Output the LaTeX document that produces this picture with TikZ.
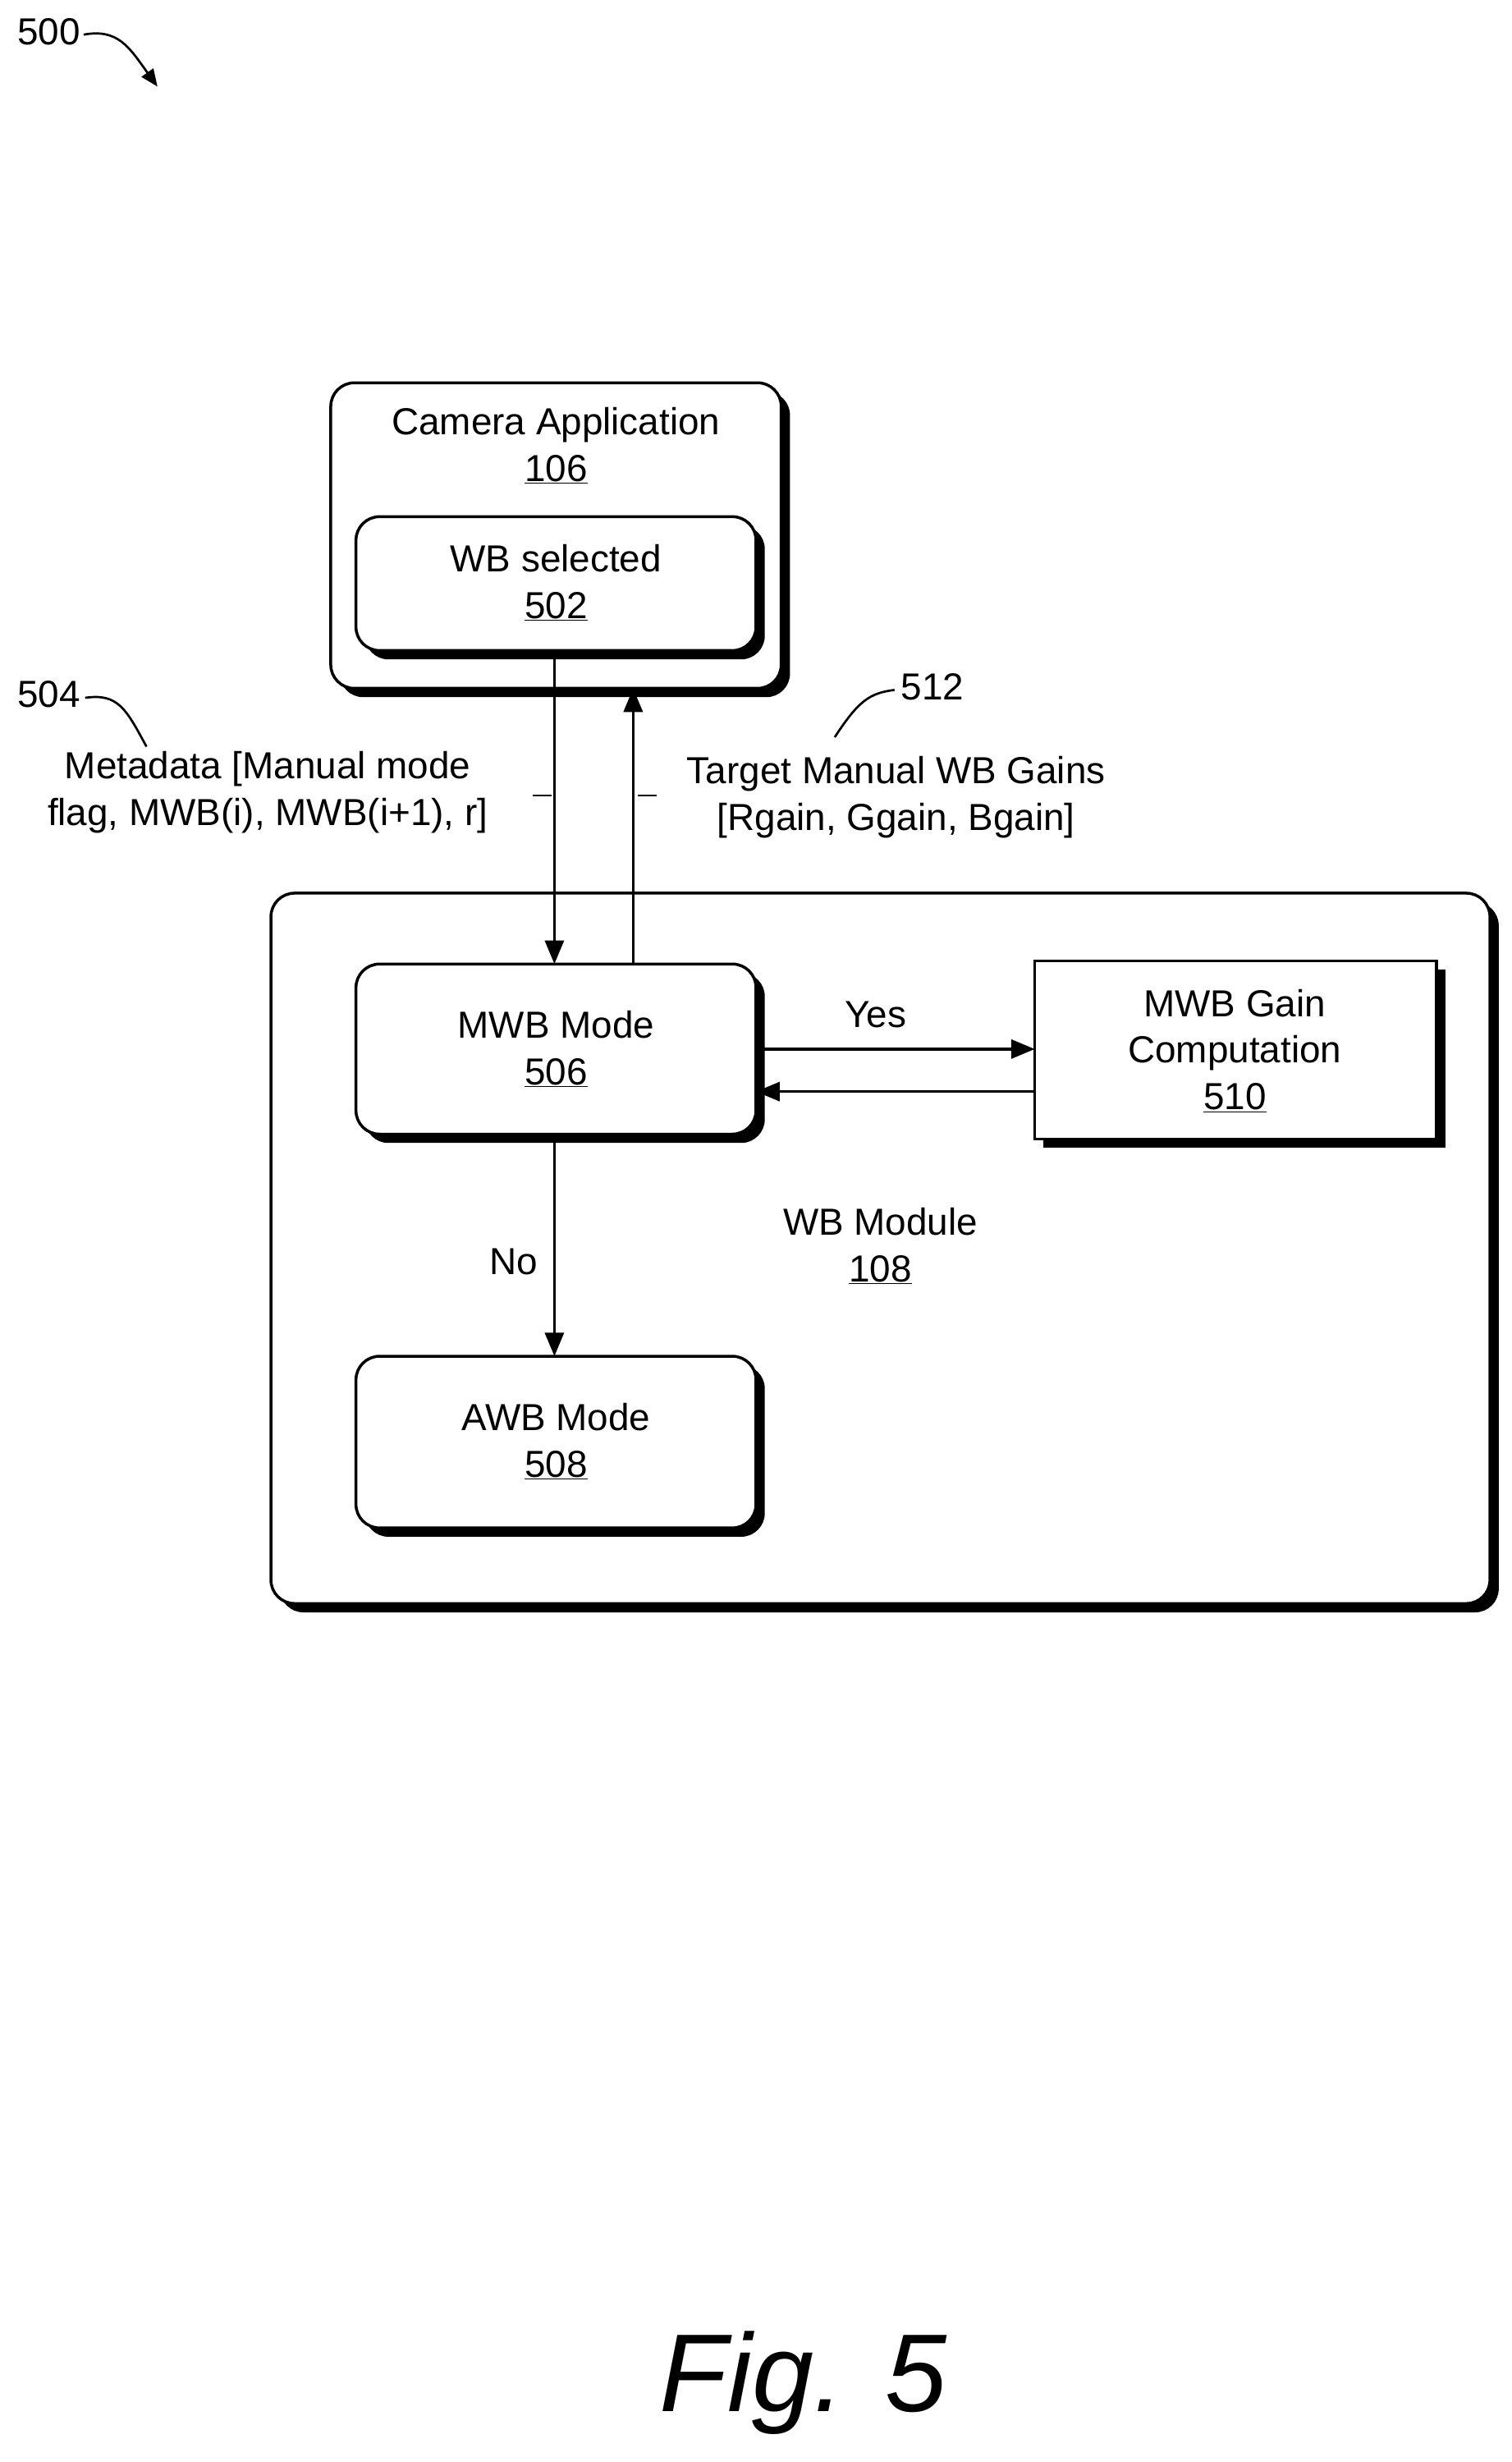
\documentclass[tikz,border=0pt]{standalone}
\usepackage{fontspec}
\setmainfont{Liberation Sans}
\usetikzlibrary{shadows,arrows.meta}
\begin{document}
\begin{tikzpicture}[x=0.05cm,y=-0.05cm,
  lw/.style={line width=2.6pt},
  box/.style={draw,lw,fill=white,rounded corners=0.75cm,inner sep=0pt,
    drop shadow={shadow xshift=0.28cm,shadow yshift=-0.28cm,fill=black,opacity=1}},
  sbox/.style={box,rounded corners=0pt},
  txt/.style={font=\fontsize{34}{42}\selectfont,align=center,inner sep=0pt},
  arr/.style={lw,-{Triangle[length=0.75cm,width=0.6cm]}},
  lead/.style={line width=2pt}]
\useasboundingbox (0,0) rectangle (960,1563);
% boxes
\node[box,minimum width=14.3cm,minimum height=9.7cm] (cam) at (353,340) {};
\node[box,minimum width=12.7cm,minimum height=4.25cm] (wbs) at (353,370.5) {};
\node[box,minimum width=38.7cm,minimum height=22.55cm] (wbm) at (559,792.5) {};
\node[box,minimum width=12.7cm,minimum height=5.4cm] (mwb) at (353,666) {};
\node[sbox,minimum width=12.75cm,minimum height=5.65cm] (gain) at (784.5,666.5) {};
\node[box,minimum width=12.7cm,minimum height=5.45cm] (awb) at (353,915.5) {};
% texts
\node[txt] (t106) at (353,283) {Camera Application\\\underline{106}};
\node[txt] (t502) at (353,370) {WB selected\\\underline{502}};
\node[txt] (t506) at (353,666) {MWB Mode\\\underline{506}};
\node[txt] (t510) at (784,667) {MWB Gain\\Computation\\\underline{510}};
\node[txt] (t508) at (353,915) {AWB Mode\\\underline{508}};
\node[txt] (t108) at (559,791) {WB Module\\\underline{108}};
\node[txt] (t504) at (170,503) {Metadata [Manual mode\\flag, MWB(i), MWB(i+1), r]};
\node[txt] (t512) at (569,506) {Target Manual WB Gains\\{}[Rgain, Ggain, Bgain]};
\node[txt] (yes) at (556,644) {Yes};
\node[txt] (no) at (326,801) {No};
\node[txt] (n500) at (31,20) {500};
\node[txt] (n504) at (31,441) {504};
\node[txt] (n512) at (592,436) {512};
\node[font=\fontsize{100}{110}\selectfont\itshape,inner sep=0pt] (fig) at (510,1513) {Fig. 5};
% connectors
\coordinate (d1) at (352,413); \coordinate (d2) at (352,612);
\draw[arr] (d1) -- (d2);
\coordinate (u1) at (402,612); \coordinate (u2) at (402,437);
\draw[arr] (u1) -- (u2);
\coordinate (y1) at (480,666); \coordinate (y2) at (657,666);
\draw[arr] (y1) -- (y2);
\coordinate (b1) at (657,693); \coordinate (b2) at (480,693);
\draw[arr] (b1) -- (b2);
\coordinate (n1) at (352,720); \coordinate (n2) at (352,861);
\draw[arr] (n1) -- (n2);
% leaders
\coordinate (l1a) at (338,505); \coordinate (l1b) at (350,505);
\draw[lead] (l1a) -- (l1b);
\coordinate (l2a) at (405,505); \coordinate (l2b) at (417,505);
\draw[lead] (l2a) -- (l2b);
\coordinate (c500) at (100,55);
\draw[lead,-{Triangle[length=0.55cm,width=0.45cm]}] (n500.east) ++(2,2) .. controls (75,18) and (82,30) .. (c500);
\coordinate (c504) at (93,474);
\draw[lead] (n504.east) ++(3,2) .. controls (75,440) and (80,450) .. (c504);
\coordinate (c512) at (530,468);
\draw[lead] (n512.west) ++(-4,2) .. controls (552,440) and (545,445) .. (c512);
\end{tikzpicture}
\end{document}
